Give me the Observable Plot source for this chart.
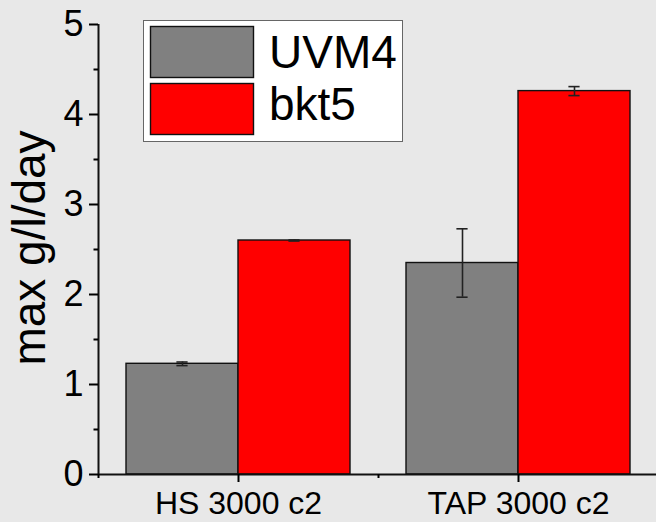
<!DOCTYPE html>
<html><head><meta charset="utf-8">
<script src="https://cdn.jsdelivr.net/npm/d3@7"></script>
<script src="https://cdn.jsdelivr.net/npm/@observablehq/plot@0.6"></script>
<style>body{margin:0;background:#e8e8e8;overflow:hidden;}</style>
</head><body><div id="chart"></div>
<script>
const categories = ["HS 3000 c2", "TAP 3000 c2"];
const series = ["UVM4", "bkt5"];
const uvm4 = [1.23, 2.35];
const uvm4Err = [0.02, 0.38];
const bkt5 = [2.60, 4.26];
const bkt5Err = [0.006, 0.05];
const yTicks = [0, 1, 2, 3, 4, 5];
const yMinorTicks = [0.5, 1.5, 2.5, 3.5, 4.5];
const colors = ["#808080", "#ff0000"];
const yLabel = "max g/l/day";

const rows = [];
categories.forEach((c, i) => {
  rows.push({cat: c, i, series: series[0], s: 0, value: uvm4[i], err: uvm4Err[i]});
  rows.push({cat: c, i, series: series[1], s: 1, value: bkt5[i], err: bkt5Err[i]});
});
const groupWidth = 0.8, barW = groupWidth / series.length, capHalf = 0.02;
rows.forEach(r => { r.x1 = r.i - groupWidth / 2 + r.s * barW; r.x2 = r.x1 + barW; r.xc = (r.x1 + r.x2) / 2; });
const catIdx = categories.map((c, i) => i);
const boundaries = [-0.5, ...catIdx.map(i => i + 0.5)];

const font = "Liberation Sans, Arial, sans-serif";
const chart = Plot.plot({
  width: 656, height: 522,
  marginLeft: 98, marginRight: -2, marginTop: 24, marginBottom: 48,
  style: {background: "#e8e8e8", fontFamily: font, color: "black", overflow: "hidden"},
  x: {domain: [-0.5, categories.length - 0.5]},
  y: {domain: [0, 5]},
  color: {domain: series, range: colors},
  marks: [
    Plot.rectY(rows, {x1: "x1", x2: "x2", y1: 0, y2: "value", fill: "series", stroke: "#111", strokeWidth: 1.4}),
    Plot.ruleX(rows, {x: "xc", y1: d => d.value - d.err, y2: d => d.value + d.err, stroke: "#222", strokeWidth: 1.6}),
    Plot.ruleY(rows, {x1: d => d.xc - capHalf, x2: d => d.xc + capHalf, y: d => d.value + d.err, stroke: "#222", strokeWidth: 1.6}),
    Plot.ruleY(rows, {x1: d => d.xc - capHalf, x2: d => d.xc + capHalf, y: d => d.value - d.err, stroke: "#222", strokeWidth: 1.6}),
    Plot.ruleX([-0.5], {stroke: "#111", strokeWidth: 2}),
    Plot.ruleY([0], {stroke: "#111", strokeWidth: 2}),
    Plot.axisY({ticks: yTicks, tickSize: 9, tickPadding: 6, fontSize: 36, strokeWidth: 2, label: null, tickFormat: d => String(d)}),
    Plot.axisY({ticks: yMinorTicks, tickSize: 4.5, tickFormat: () => "", strokeWidth: 2, label: null}),
    Plot.axisX({ticks: catIdx, tickSize: 8, tickPadding: 9, fontSize: 32, strokeWidth: 2, label: null, tickFormat: i => categories[i]}),
    Plot.axisX({ticks: boundaries, tickSize: 4, tickFormat: () => "", strokeWidth: 2, label: null})
  ]
});
document.getElementById("chart").appendChild(chart);

// y label
const svg = d3.select(chart);
svg.append("text")
  .attr("transform", "translate(45,248) rotate(-90)")
  .attr("text-anchor", "middle")
  .attr("font-family", font).attr("font-size", 46).attr("fill", "black")
  .text(yLabel);

// legend
const lg = svg.append("g");
lg.append("rect").attr("x", 143.5).attr("y", 20.5).attr("width", 259).attr("height", 121)
  .attr("fill", "white").attr("stroke", "#666").attr("stroke-width", 1);
series.forEach((s, k) => {
  lg.append("rect").attr("x", 150.5).attr("y", 26.5 + k * 57).attr("width", 103).attr("height", 51)
    .attr("fill", colors[k]).attr("stroke", "#111").attr("stroke-width", 1.4);
  lg.append("text").attr("x", 269).attr("y", 68 + k * 52)
    .attr("text-anchor", "start")
    .attr("font-family", font).attr("font-size", 46).attr("fill", "black").text(s);
});
</script></body></html>
